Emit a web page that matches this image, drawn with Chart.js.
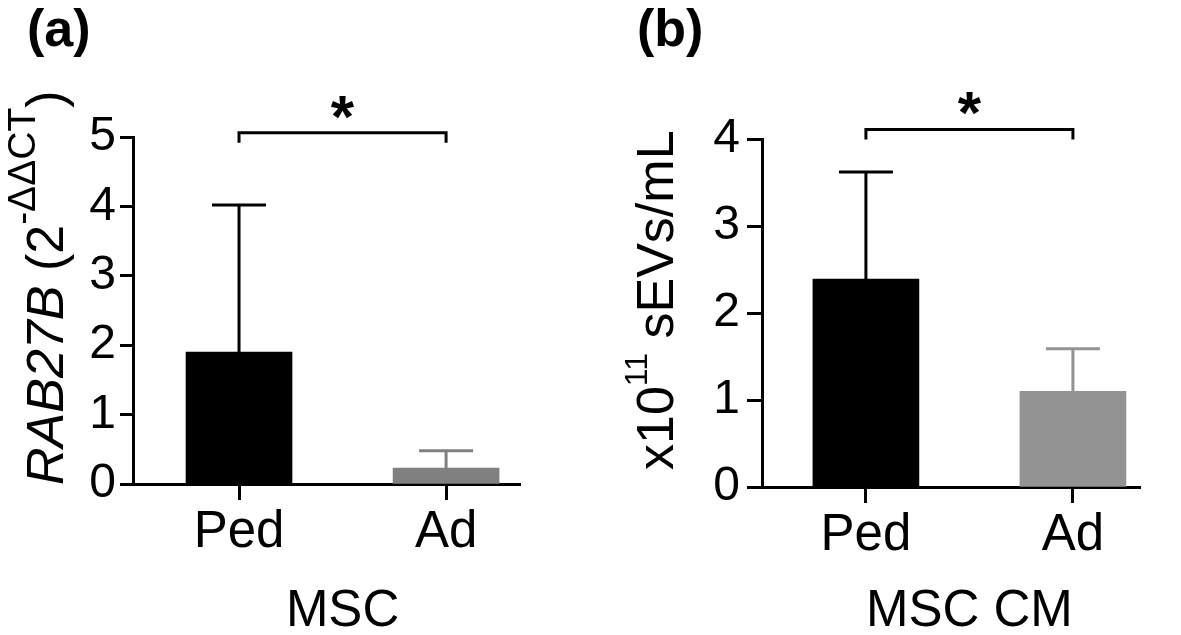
<!DOCTYPE html>
<html>
<head>
<meta charset="utf-8">
<script src="https://cdn.jsdelivr.net/npm/chart.js@4.4.0/dist/chart.umd.min.js"></script>
<style>
  body { margin: 0; background: #fff; }
  #wrap { position: relative; width: 1181px; height: 635px; }
  canvas { position: absolute; top: 0; }
  #chartA { left: 0; }
  #chartB { left: 590px; }
</style>
</head>
<body>
<div id="wrap">
  <canvas id="chartA" width="590" height="635"></canvas>
  <canvas id="chartB" width="591" height="635"></canvas>
</div>
<script>
const groups = ['Ped', 'Ad'];
// panel (a) RAB27B expression
const rabMean = [1.90, 0.23];
const rabErr = [2.12, 0.25];
const rabTicks = [0, 1, 2, 3, 4, 5];
// panel (b) sEV concentration
const sevMean = [2.39, 1.10];
const sevErr = [1.23, 0.49];
const sevTicks = [0, 1, 2, 3, 4];

const FONT = "'Liberation Sans', Arial, sans-serif";

function drawRich(ctx, x, y, parts) {
  ctx.save();
  ctx.translate(x, y);
  ctx.rotate(-Math.PI / 2);
  ctx.textAlign = 'left';
  ctx.textBaseline = 'alphabetic';
  ctx.fillStyle = '#000';
  let pos = 0;
  parts.forEach(p => {
    ctx.font = p.font;
    ctx.fillText(p.t, pos, p.dy || 0);
    pos += ctx.measureText(p.t).width;
  });
  ctx.restore();
}

function makeDecor(cfg) {
  return {
    id: 'decor',
    afterDatasetsDraw(chart) {
      const ctx = chart.ctx;
      const ys = chart.scales.y;
      const meta = chart.getDatasetMeta(0);
      const colors = chart.data.datasets[0].backgroundColor;
      ctx.save();
      ctx.lineWidth = 3;
      ctx.lineCap = 'butt';
      // error bars (upper only)
      meta.data.forEach((bar, i) => {
        const top = ys.getPixelForValue(cfg.mean[i] + cfg.err[i]);
        ctx.strokeStyle = colors[i];
        ctx.beginPath();
        ctx.moveTo(bar.x, bar.y);
        ctx.lineTo(bar.x, top);
        ctx.moveTo(bar.x - 27, top);
        ctx.lineTo(bar.x + 27, top);
        ctx.stroke();
      });
      // significance bracket
      const x0 = meta.data[0].x, x1 = meta.data[1].x;
      const by = ys.getPixelForValue(cfg.bracket);
      ctx.strokeStyle = '#000';
      ctx.beginPath();
      ctx.moveTo(x0, by + 10);
      ctx.lineTo(x0, by);
      ctx.lineTo(x1, by);
      ctx.lineTo(x1, by + 10);
      ctx.stroke();
      ctx.fillStyle = '#000';
      ctx.font = 'bold 60px ' + FONT;
      ctx.textAlign = 'center';
      ctx.textBaseline = 'alphabetic';
      ctx.fillText('*', (x0 + x1) / 2, by + 4);
      // panel label
      ctx.font = 'bold 52px ' + FONT;
      ctx.textAlign = 'left';
      ctx.fillText(cfg.panel, cfg.panelX, 46);
      // x axis title
      ctx.font = '51px ' + FONT;
      ctx.textAlign = 'center';
      ctx.fillText(cfg.xTitle, (x0 + x1) / 2, 626);
      ctx.restore();
      // y axis title
      drawRich(ctx, cfg.yTitleX, cfg.yTitleY, cfg.yTitle);
    }
  };
}

function makeChart(id, cfg) {
  return new Chart(document.getElementById(id), {
    type: 'bar',
    data: {
      datasets: [{
        data: cfg.mean.map((v, i) => ({ x: i, y: v })),
        backgroundColor: cfg.colors,
        borderWidth: 0,
        barThickness: 106
      }]
    },
    options: {
      responsive: false,
      animation: false,
      layout: { padding: { top: cfg.top, right: cfg.right, left: 0, bottom: 0 } },
      plugins: { legend: { display: false }, tooltip: { enabled: false } },
      scales: {
        x: {
          type: 'linear',
          offset: false,
          min: cfg.xMin,
          max: cfg.xMax,
          afterBuildTicks: s => { s.ticks = groups.map((g, i) => ({ value: i })); },
          afterFit: s => { s.height = cfg.xHeight; },
          ticks: {
            callback: v => groups[v],
            color: '#000',
            font: { size: 51, family: FONT },
            padding: 2,
            maxRotation: 0,
            autoSkip: false
          },
          grid: { offset: false, drawOnChartArea: false, tickLength: 16, tickWidth: 3, tickColor: '#000' },
          border: { color: '#000', width: 3 }
        },
        y: {
          min: 0,
          max: cfg.ticks[cfg.ticks.length - 1],
          afterBuildTicks: s => { s.ticks = cfg.ticks.map(v => ({ value: v })); },
          afterFit: s => { s.width = cfg.yWidth; },
          ticks: {
            color: '#000',
            font: { size: 48, family: FONT },
            padding: cfg.yPad
          },
          grid: { drawOnChartArea: false, tickLength: cfg.yTick, tickWidth: 3, tickColor: '#000' },
          border: { color: '#000', width: 3 }
        }
      }
    },
    plugins: [makeDecor(cfg)]
  });
}

makeChart('chartA', {
  mean: rabMean, err: rabErr, ticks: rabTicks,
  colors: ['#000000', '#808080'],
  bracket: 5.06,
  top: 137, right: 70, xHeight: 151, yWidth: 133,
  xMin: -0.512, xMax: 1.357,
  yTick: 13, yPad: 4,
  panel: '(a)', panelX: 27,
  xTitle: 'MSC',
  yTitleX: 63, yTitleY: 485,
  yTitle: [
    { t: 'RAB27B', font: 'italic 52px ' + FONT },
    { t: ' (2', font: '52px ' + FONT },
    { t: '-ΔΔCT', font: '39px ' + FONT, dy: -28 },
    { t: ')', font: '52px ' + FONT }
  ]
});

makeChart('chartB', {
  mean: sevMean, err: sevErr, ticks: sevTicks,
  colors: ['#000000', '#939393'],
  bracket: 4.11,
  top: 139, right: 41, xHeight: 148, yWidth: 172,
  xMin: -0.502, xMax: 1.324,
  yTick: 15, yPad: 7,
  panel: '(b)', panelX: 47,
  xTitle: 'MSC CM',
  yTitleX: 83, yTitleY: 470,
  yTitle: [
    { t: 'x10', font: '52px ' + FONT },
    { t: '11', font: '32px ' + FONT, dy: -26 },
    { t: ' sEVs/mL', font: '52px ' + FONT }
  ]
});
</script>
</body>
</html>
